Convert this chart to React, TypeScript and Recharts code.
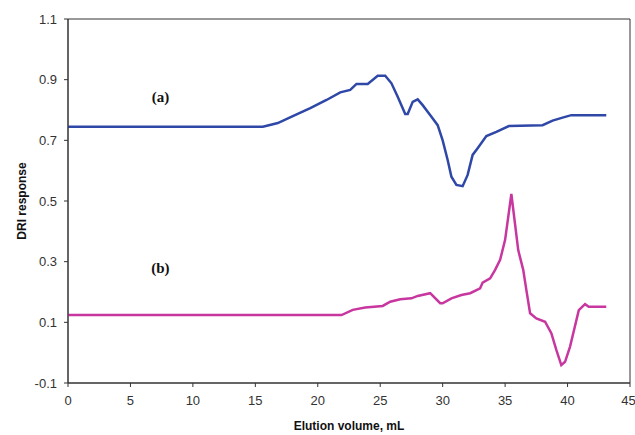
import React from "react";
import { Label, Line, LineChart, ReferenceArea, ReferenceDot, XAxis, YAxis } from "recharts";

// trace (a)
const volA = [0, 15.6, 16.8, 18.0, 19.4, 20.7, 21.8, 22.6, 23.1, 24.0, 24.8, 25.4, 25.9, 26.4, 27.0, 27.2, 27.6, 28.0, 28.4, 29.1, 29.6, 30.0, 30.4, 30.7, 31.1, 31.6, 32.0, 32.4, 32.8, 33.5, 34.3, 35.3, 38.0, 38.8, 39.6, 40.3, 43.1];
const respA = [0.745, 0.745, 0.757, 0.78, 0.806, 0.833, 0.858, 0.866, 0.886, 0.886, 0.913, 0.913, 0.888, 0.844, 0.787, 0.787, 0.827, 0.835, 0.816, 0.778, 0.75, 0.7, 0.635, 0.58, 0.553, 0.549, 0.586, 0.652, 0.674, 0.714, 0.728, 0.747, 0.75, 0.765, 0.775, 0.783, 0.783];

// trace (b)
const volB = [0, 21.9, 22.8, 23.8, 25.2, 25.8, 26.6, 27.5, 28.0, 29.0, 29.8, 30.0, 30.7, 31.5, 32.2, 33.0, 33.2, 33.8, 34.2, 34.6, 35.0, 35.5, 36.05, 36.45, 36.7, 37.0, 37.5, 38.2, 38.7, 39.1, 39.5, 39.8, 40.2, 40.9, 41.4, 41.7, 43.1];
const respB = [0.124, 0.124, 0.141, 0.149, 0.154, 0.168, 0.176, 0.179, 0.187, 0.196, 0.163, 0.163, 0.179, 0.19, 0.196, 0.212, 0.231, 0.245, 0.273, 0.306, 0.372, 0.523, 0.338, 0.273, 0.207, 0.13, 0.113, 0.102, 0.064, 0.009, -0.041, -0.03, 0.02, 0.14, 0.16, 0.151, 0.151];

const xTicks = [0, 5, 10, 15, 20, 25, 30, 35, 40, 45];
const yTicks = [-0.1, 0.1, 0.3, 0.5, 0.7, 0.9, 1.1];

const dataA = volA.map((v, i) => ({ vol: v, resp: respA[i] }));
const dataB = volB.map((v, i) => ({ vol: v, resp: respB[i] }));

const tickStyle = { fontFamily: "Liberation Sans, Arial, sans-serif", fontSize: 13, fill: "#333" };
const titleStyle = { fontFamily: "Liberation Sans, Arial, sans-serif", fontSize: 12, fontWeight: "bold", fill: "#111" };
const tagStyle = { fontFamily: "Liberation Serif, Times New Roman, serif", fontSize: 15, fontWeight: "bold", fill: "#111" };

const App = () => {
    return (
        <div style={{ position: "absolute", left: 0, top: 0, background: "#fff" }}>
            <LineChart width={635} height={435} margin={{ top: 19, right: 5, left: 0, bottom: 0 }}>
                <XAxis
                    dataKey="vol"
                    type="number"
                    domain={[0, 45]}
                    ticks={xTicks}
                    allowDuplicatedCategory={false}
                    height={52}
                    tickSize={4}
                    tickMargin={9}
                    stroke="#333"
                    tick={tickStyle}
                >
                    <Label value="Elution volume, mL" position="insideBottom" offset={5} style={titleStyle} />
                </XAxis>
                <YAxis
                    type="number"
                    domain={[-0.1, 1.1]}
                    ticks={yTicks}
                    width={68}
                    tickSize={4}
                    tickMargin={7}
                    stroke="#333"
                    tick={tickStyle}
                    tickFormatter={(v: number) => v.toFixed(1)}
                >
                    <Label value="DRI response" angle={-90} position="insideLeft" offset={22} style={{ ...titleStyle, textAnchor: "middle" }} />
                </YAxis>
                <ReferenceArea x1={0} x2={45} y1={-0.1} y2={1.1} fill="none" stroke="#333" strokeWidth={1} ifOverflow="visible" />
                <Line data={dataA} dataKey="resp" type="linear" stroke="#2f48a8" strokeWidth={2.5} dot={false} isAnimationActive={false} />
                <Line data={dataB} dataKey="resp" type="linear" stroke="#c8379f" strokeWidth={2.5} dot={false} isAnimationActive={false} />
                <ReferenceDot x={7.4} y={0.843} r={0} fill="none" stroke="none">
                    <Label value="(a)" position="center" style={tagStyle} />
                </ReferenceDot>
                <ReferenceDot x={7.4} y={0.279} r={0} fill="none" stroke="none">
                    <Label value="(b)" position="center" style={tagStyle} />
                </ReferenceDot>
            </LineChart>
        </div>
    );
};

export default App;
